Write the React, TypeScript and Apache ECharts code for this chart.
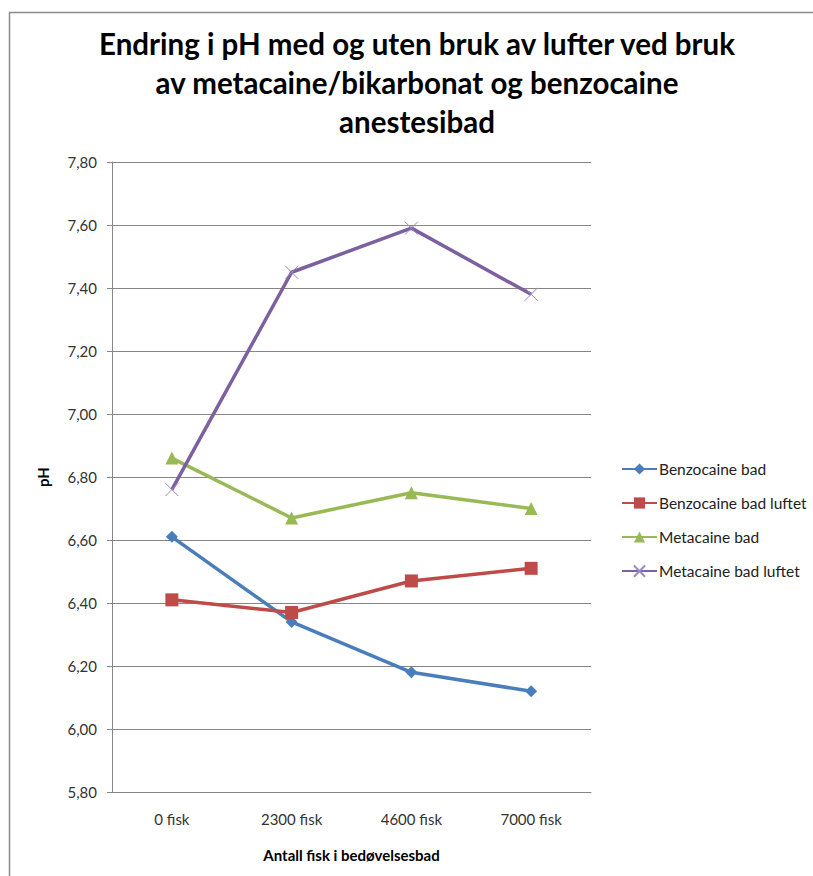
import React, { useEffect, useRef } from "react";
import * as echarts from "echarts";

const categories = ["0 fisk", "2300 fisk", "4600 fisk", "7000 fisk"];
const benzocaineBad = [6.61, 6.34, 6.18, 6.12];
const benzocaineBadLuftet = [6.41, 6.37, 6.47, 6.51];
const metacaineBad = [6.86, 6.67, 6.75, 6.70];
const metacaineBadLuftet = [6.76, 7.45, 7.59, 7.38];
const seriesNames = ["Benzocaine bad", "Benzocaine bad luftet", "Metacaine bad", "Metacaine bad luftet"];
const titleText = "Endring i pH med og uten bruk av lufter ved bruk\nav metacaine/bikarbonat og benzocaine\nanestesibad";
const xName = "Antall fisk i bedøvelsesbad";
const yName = "pH";

const FONT = "Lato, 'Liberation Sans', sans-serif";

export default function App() {
  const ref = useRef<HTMLDivElement>(null);
  useEffect(() => {
    if (!ref.current) return;
    const chart = echarts.init(ref.current, null, { renderer: "svg" });
    const mk = (name: string, data: number[], color: string, symbol: string, symbolSize: number, itemStyle: any) => ({
      name,
      type: "line",
      data,
      symbol,
      symbolSize,
      lineStyle: { color, width: 3.5 },
      itemStyle,
      emphasis: { disabled: true },
    });
    chart.setOption({
      animation: false,
      textStyle: { fontFamily: FONT },
      title: {
        text: titleText,
        left: 412,
        textAlign: "center",
        top: 19,
        padding: 5,
        textStyle: { fontFamily: FONT, fontSize: 29.5, fontWeight: "bold", lineHeight: 39, color: "#000" },
      },
      graphic: [
        {
          type: "rect",
          shape: { x: 9.5, y: 12.5, width: 840, height: 900 },
          style: { fill: "none", stroke: "#8a8a8a", lineWidth: 1.5 },
          silent: true,
        },
      ],
      grid: { left: 112, right: 222, top: 162, bottom: 84, containLabel: false },
      legend: {
        orient: "vertical",
        left: 616,
        top: 456,
        itemWidth: 35,
        itemHeight: 14,
        itemGap: 18,
        textStyle: { fontFamily: FONT, fontSize: 15.5, color: "#222", padding: [0, 0, 0, -3] },
        data: seriesNames,
      },
      xAxis: {
        type: "category",
        data: categories,
        boundaryGap: true,
        name: xName,
        nameLocation: "middle",
        nameGap: 55,
        nameTextStyle: { fontFamily: FONT, fontSize: 15, fontWeight: "bold", color: "#000" },
        axisLine: { lineStyle: { color: "#868686", width: 1 } },
        axisTick: { show: false },
        axisLabel: { margin: 19, fontFamily: FONT, fontSize: 15, color: "#333" },
        splitLine: { show: false },
      },
      yAxis: {
        type: "value",
        min: 5.8,
        max: 7.8,
        interval: 0.2,
        name: yName,
        nameLocation: "middle",
        nameGap: 62,
        nameRotate: 90,
        nameTextStyle: { fontFamily: FONT, fontSize: 15, fontWeight: "bold", color: "#000" },
        axisLine: { show: true, lineStyle: { color: "#868686", width: 1 } },
        axisTick: { show: true, length: 5, lineStyle: { color: "#868686" } },
        axisLabel: {
          margin: 15,
          fontFamily: FONT,
          fontSize: 15,
          color: "#333",
          formatter: (v: number) => v.toFixed(2).replace(".", ","),
        },
        splitLine: { show: true, lineStyle: { color: "#868686", width: 1 } },
      },
      series: [
        mk(seriesNames[0], benzocaineBad, "#4A7EBB", "diamond", 12, { color: "#4A7EBB" }),
        mk(seriesNames[1], benzocaineBadLuftet, "#BE4B48", "rect", 13, { color: "#BE4B48" }),
        mk(seriesNames[2], metacaineBad, "#98B954", "triangle", 13, { color: "#98B954" }),
        mk(seriesNames[3], metacaineBadLuftet, "#7D60A0", "path://M0,0L10,10M10,0L0,10", 13, {
          color: "none",
          borderColor: "#9A8AC4",
          borderWidth: 1,
        }),
      ],
    });
    return () => chart.dispose();
  }, []);
  return (
    <div
      ref={ref}
      style={{ position: "absolute", left: 0, top: 0, width: 813, height: 876, background: "#fff" }}
    />
  );
}
